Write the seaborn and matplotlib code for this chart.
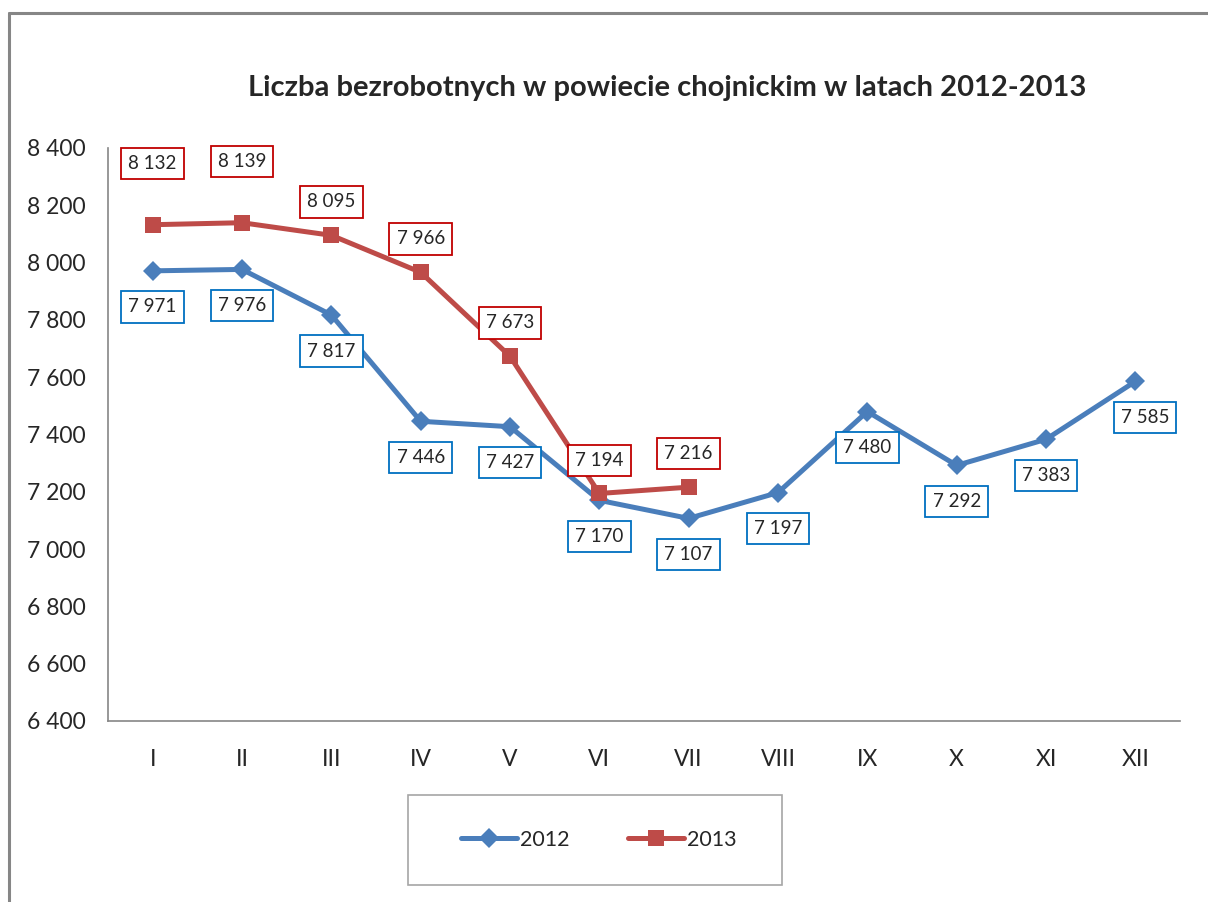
import numpy as np
import pandas as pd
import matplotlib
matplotlib.use('Agg')
import matplotlib.pyplot as plt
import seaborn as sns
from matplotlib.lines import Line2D
from matplotlib.patches import Rectangle

# dane
months = ['I', 'II', 'III', 'IV', 'V', 'VI', 'VII', 'VIII', 'IX', 'X', 'XI', 'XII']
values_2012 = [7971, 7976, 7817, 7446, 7427, 7170, 7107, 7197, 7480, 7292, 7383, 7585]
values_2013 = [8132, 8139, 8095, 7966, 7673, 7194, 7216]
y_ticks = [6400, 6600, 6800, 7000, 7200, 7400, 7600, 7800, 8000, 8200, 8400]

sns.set_theme(style='white')
plt.rcParams['font.family'] = ['Lato', 'DejaVu Sans']

blue = '#4A7EBB'
red = '#BE4B48'

df = pd.concat([
    pd.DataFrame({'month': months, 'value': values_2012, 'year': '2012'}),
    pd.DataFrame({'month': months[:len(values_2013)], 'value': values_2013, 'year': '2013'}),
])
df['x'] = df['month'].map({m: i for i, m in enumerate(months)})

fig = plt.figure(figsize=(12.08, 9.02), dpi=100)
ax = fig.add_axes([0.0894, 0.2007, 0.8874, 0.6353])

sns.lineplot(data=df[df.year == '2012'], x='x', y='value', color=blue, lw=3.6,
             marker='D', markersize=10, markeredgewidth=0, ax=ax)
sns.lineplot(data=df[df.year == '2013'], x='x', y='value', color=red, lw=3.6,
             marker='s', markersize=11.5, markeredgewidth=0, ax=ax)

ax.set_xlim(-0.5, 11.5)
ax.set_ylim(6400, 8400)
ax.set_yticks(y_ticks)
ax.set_yticklabels([f'{v:,}'.replace(',', ' ') for v in y_ticks], fontsize=16.5)
ax.set_xticks(np.arange(-0.5, 12, 1))
ax.set_xticklabels([])
ax.set_xticks(range(12), minor=True)
ax.set_xticklabels(months, minor=True, fontsize=16.5)
ax.tick_params(axis='x', which='minor', length=0, pad=20)
ax.tick_params(axis='x', which='major', length=6, color='#868686', direction='out')
ax.tick_params(axis='y', length=6, color='#868686', direction='out', pad=10)
ax.set_xlabel('')
ax.set_ylabel('')
for s in ['top', 'right']:
    ax.spines[s].set_visible(False)
for s in ['left', 'bottom']:
    ax.spines[s].set_color('#868686')
    ax.spines[s].set_linewidth(1.2)
ax.grid(False)

# etykiety danych
def fmt(v):
    return f'{v:,}'.replace(',', ' ')

for i, v in enumerate(values_2012):
    dx = 7 if i == 11 else 0
    ax.annotate(fmt(v), (i, v), xytext=(dx, -26), textcoords='offset points',
                ha='center', va='center', fontsize=13.5,
                bbox=dict(boxstyle='square,pad=0.38', fc='white', ec='#0070C0', lw=1.3))
red_off = [44, 44, 24, 24, 24, 24, 24]
for i, v in enumerate(values_2013):
    ax.annotate(fmt(v), (i, v), xytext=(0, red_off[i]), textcoords='offset points',
                ha='center', va='center', fontsize=13.5,
                bbox=dict(boxstyle='square,pad=0.38', fc='white', ec='#C00000', lw=1.3))

fig.text(0.552, 0.902, 'Liczba bezrobotnych w powiecie chojnickim w latach 2012-2013',
         ha='center', va='center', fontsize=21, fontweight='bold')

# legenda z osobną ramką
fig.add_artist(Rectangle((0.3377, 0.0189), 0.3096, 0.0998, transform=fig.transFigure,
                         fc='white', ec='#A6A6A6', lw=1.2))
handles = [
    Line2D([], [], color=blue, lw=3.6, marker='D', markersize=10, markeredgewidth=0),
    Line2D([], [], color=red, lw=3.6, marker='s', markersize=11.5, markeredgewidth=0),
]
leg = fig.legend(handles, ['2012', '2013'], loc='center', bbox_to_anchor=(0.4958, 0.0687),
                 ncol=2, fontsize=15.5, frameon=False,
                 handlelength=2.6, columnspacing=2.7, handletextpad=0.15, borderaxespad=0)

# ramka wykresu (lewa i górna krawędź)
fig.add_artist(Line2D([0.0075, 0.0075], [0, 0.986], color='#868686', lw=2.2, transform=fig.transFigure))
fig.add_artist(Line2D([0.0075, 1], [0.986, 0.986], color='#868686', lw=2.2, transform=fig.transFigure))

fig.savefig('out.png', dpi=100)
